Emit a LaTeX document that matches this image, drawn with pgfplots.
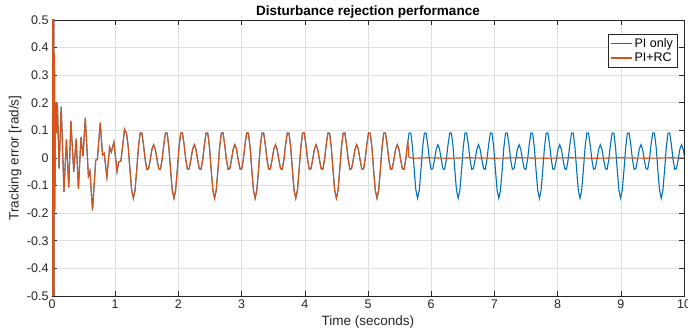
\documentclass[border=0pt]{standalone}
\usepackage{fontspec}
\setmainfont{Liberation Sans}
\usepackage{pgfplots}
\usepackage{pgfplotstable}
\pgfplotsset{compat=1.18}
\definecolor{mblue}{rgb}{0,0.447,0.741}
\definecolor{morange}{rgb}{0.85,0.325,0.098}
\definecolor{axgray}{rgb}{0.15,0.15,0.15}
\definecolor{gridgray}{rgb}{0.875,0.875,0.875}

% common part (PI only and PI+RC identical until RC switches in)
\pgfplotstableread[row sep=\\]{
t y\\
0 0\\
0.003 0.9\\ 0.006 -0.9\\ 0.009 0.9\\ 0.012 -0.9\\ 0.015 0.9\\ 0.018 -0.9\\
0.021 0.9\\ 0.024 -0.9\\ 0.027 0.9\\ 0.030 -0.9\\
0.033 0.376\\ 0.038 0.376\\ 0.045 -0.19\\ 0.052 0.2\\ 0.062 0.2\\ 0.073 0.09\\
0.085 0.2\\ 0.112 -0.038\\ 0.146 0.186\\ 0.189 -0.123\\ 0.228 0.067\\ 0.265 -0.106\\
0.299 0.134\\ 0.344 -0.05\\ 0.383 0.07\\ 0.418 -0.112\\ 0.459 0.076\\ 0.49 0.006\\
0.527 0.145\\ 0.576 -0.065\\ 0.6 -0.047\\ 0.641 -0.19\\ 0.692 -0.008\\ 0.718 -0.005\\
0.763 0.128\\ 0.8 0.011\\ 0.826 0.017\\ 0.868 -0.069\\ 0.912 0.04\\ 0.938 0.022\\
0.979 0.058\\ 1.029 -0.049\\ 1.055 -0.014\\ 1.09 -0.011\\ 1.148 0.104\\ 1.18 0.088\\
1.2067 0.0389\\ 1.2335 -0.0427\\ 1.2602 -0.1165\\
1.2870 -0.146\\ 1.3138 -0.1165\\ 1.3405 -0.0427\\ 1.3673 0.0389\\ 1.3941 0.0900\\ 1.4209 0.0907\\
1.4476 0.0490\\ 1.4744 -0.0059\\ 1.5012 -0.0410\\ 1.5279 -0.0389\\ 1.5547 -0.0063\\ 1.5815 0.0316\\
1.6083 0.0480\\ 1.6350 0.0316\\ 1.6618 -0.0063\\ 1.6886 -0.0389\\ 1.7153 -0.0410\\ 1.7421 -0.0059\\
1.7689 0.0490\\ 1.7956 0.0907\\ 1.8224 0.0900\\ 1.8492 0.0389\\ 1.8760 -0.0427\\ 1.9027 -0.1165\\
1.9295 -0.146\\ 1.9563 -0.1165\\ 1.9830 -0.0427\\ 2.0098 0.0389\\ 2.0366 0.0900\\ 2.0634 0.0907\\
2.0901 0.0490\\ 2.1169 -0.0059\\ 2.1437 -0.0410\\ 2.1704 -0.0389\\ 2.1972 -0.0063\\ 2.2240 0.0316\\
2.2508 0.0480\\ 2.2775 0.0316\\ 2.3043 -0.0063\\ 2.3311 -0.0389\\ 2.3578 -0.0410\\ 2.3846 -0.0059\\
2.4114 0.0490\\ 2.4381 0.0907\\ 2.4649 0.0900\\ 2.4917 0.0389\\ 2.5185 -0.0427\\ 2.5452 -0.1165\\
2.5720 -0.146\\ 2.5988 -0.1165\\ 2.6255 -0.0427\\ 2.6523 0.0389\\ 2.6791 0.0900\\ 2.7059 0.0907\\
2.7326 0.0490\\ 2.7594 -0.0059\\ 2.7862 -0.0410\\ 2.8129 -0.0389\\ 2.8397 -0.0063\\ 2.8665 0.0316\\
2.8933 0.0480\\ 2.9200 0.0316\\ 2.9468 -0.0063\\ 2.9736 -0.0389\\ 3.0003 -0.0410\\ 3.0271 -0.0059\\
3.0539 0.0490\\ 3.0806 0.0907\\ 3.1074 0.0900\\ 3.1342 0.0389\\ 3.1610 -0.0427\\ 3.1877 -0.1165\\
3.2145 -0.146\\ 3.2413 -0.1165\\ 3.2680 -0.0427\\ 3.2948 0.0389\\ 3.3216 0.0900\\ 3.3484 0.0907\\
3.3751 0.0490\\ 3.4019 -0.0059\\ 3.4287 -0.0410\\ 3.4554 -0.0389\\ 3.4822 -0.0063\\ 3.5090 0.0316\\
3.5358 0.0480\\ 3.5625 0.0316\\ 3.5893 -0.0063\\ 3.6161 -0.0389\\ 3.6428 -0.0410\\ 3.6696 -0.0059\\
3.6964 0.0490\\ 3.7231 0.0907\\ 3.7499 0.0900\\ 3.7767 0.0389\\ 3.8035 -0.0427\\ 3.8302 -0.1165\\
3.8570 -0.146\\ 3.8838 -0.1165\\ 3.9105 -0.0427\\ 3.9373 0.0389\\ 3.9641 0.0900\\ 3.9909 0.0907\\
4.0176 0.0490\\ 4.0444 -0.0059\\ 4.0712 -0.0410\\ 4.0979 -0.0389\\ 4.1247 -0.0063\\ 4.1515 0.0316\\
4.1783 0.0480\\ 4.2050 0.0316\\ 4.2318 -0.0063\\ 4.2586 -0.0389\\ 4.2853 -0.0410\\ 4.3121 -0.0059\\
4.3389 0.0490\\ 4.3656 0.0907\\ 4.3924 0.0900\\ 4.4192 0.0389\\ 4.4460 -0.0427\\ 4.4727 -0.1165\\
4.4995 -0.146\\ 4.5263 -0.1165\\ 4.5530 -0.0427\\ 4.5798 0.0389\\ 4.6066 0.0900\\ 4.6334 0.0907\\
4.6601 0.0490\\ 4.6869 -0.0059\\ 4.7137 -0.0410\\ 4.7404 -0.0389\\ 4.7672 -0.0063\\ 4.7940 0.0316\\
4.8208 0.0480\\ 4.8475 0.0316\\ 4.8743 -0.0063\\ 4.9011 -0.0389\\ 4.9278 -0.0410\\ 4.9546 -0.0059\\
4.9814 0.0490\\ 5.0081 0.0907\\ 5.0349 0.0900\\ 5.0617 0.0389\\ 5.0885 -0.0427\\ 5.1152 -0.1165\\
5.1420 -0.146\\ 5.1688 -0.1165\\ 5.1955 -0.0427\\ 5.2223 0.0389\\ 5.2491 0.0900\\ 5.2759 0.0907\\
5.3026 0.0490\\ 5.3294 -0.0059\\ 5.3562 -0.0410\\ 5.3829 -0.0389\\ 5.4097 -0.0063\\ 5.4365 0.0316\\
5.4633 0.0480\\ 5.4900 0.0316\\ 5.5168 -0.0063\\ 5.5436 -0.0389\\ 5.5703 -0.0410\\ 5.5971 -0.0059\\
5.6239 0.0490\\
}\common

% PI only: continues oscillating
\pgfplotstableread[row sep=\\]{
t y\\
5.6239 0.0490\\ 5.6506 0.0907\\ 5.6774 0.0900\\ 5.7042 0.0389\\ 5.7310 -0.0427\\ 5.7577 -0.1165\\
5.7845 -0.146\\ 5.8113 -0.1165\\ 5.8380 -0.0427\\ 5.8648 0.0389\\ 5.8916 0.0900\\ 5.9184 0.0907\\
5.9451 0.0490\\ 5.9719 -0.0059\\ 5.9987 -0.0410\\ 6.0254 -0.0389\\ 6.0522 -0.0063\\ 6.0790 0.0316\\
6.1058 0.0480\\ 6.1325 0.0316\\ 6.1593 -0.0063\\ 6.1861 -0.0389\\ 6.2128 -0.0410\\ 6.2396 -0.0059\\
6.2664 0.0490\\ 6.2931 0.0907\\ 6.3199 0.0900\\ 6.3467 0.0389\\ 6.3735 -0.0427\\ 6.4002 -0.1165\\
6.4270 -0.146\\ 6.4538 -0.1165\\ 6.4805 -0.0427\\ 6.5073 0.0389\\ 6.5341 0.0900\\ 6.5609 0.0907\\
6.5876 0.0490\\ 6.6144 -0.0059\\ 6.6412 -0.0410\\ 6.6679 -0.0389\\ 6.6947 -0.0063\\ 6.7215 0.0316\\
6.7483 0.0480\\ 6.7750 0.0316\\ 6.8018 -0.0063\\ 6.8286 -0.0389\\ 6.8553 -0.0410\\ 6.8821 -0.0059\\
6.9089 0.0490\\ 6.9356 0.0907\\ 6.9624 0.0900\\ 6.9892 0.0389\\ 7.0160 -0.0427\\ 7.0427 -0.1165\\
7.0695 -0.146\\ 7.0963 -0.1165\\ 7.1230 -0.0427\\ 7.1498 0.0389\\ 7.1766 0.0900\\ 7.2034 0.0907\\
7.2301 0.0490\\ 7.2569 -0.0059\\ 7.2837 -0.0410\\ 7.3104 -0.0389\\ 7.3372 -0.0063\\ 7.3640 0.0316\\
7.3908 0.0480\\ 7.4175 0.0316\\ 7.4443 -0.0063\\ 7.4711 -0.0389\\ 7.4978 -0.0410\\ 7.5246 -0.0059\\
7.5514 0.0490\\ 7.5781 0.0907\\ 7.6049 0.0900\\ 7.6317 0.0389\\ 7.6585 -0.0427\\ 7.6852 -0.1165\\
7.7120 -0.146\\ 7.7388 -0.1165\\ 7.7655 -0.0427\\ 7.7923 0.0389\\ 7.8191 0.0900\\ 7.8459 0.0907\\
7.8726 0.0490\\ 7.8994 -0.0059\\ 7.9262 -0.0410\\ 7.9529 -0.0389\\ 7.9797 -0.0063\\ 8.0065 0.0316\\
8.0333 0.0480\\ 8.0600 0.0316\\ 8.0868 -0.0063\\ 8.1136 -0.0389\\ 8.1403 -0.0410\\ 8.1671 -0.0059\\
8.1939 0.0490\\ 8.2206 0.0907\\ 8.2474 0.0900\\ 8.2742 0.0389\\ 8.3010 -0.0427\\ 8.3277 -0.1165\\
8.3545 -0.146\\ 8.3813 -0.1165\\ 8.4080 -0.0427\\ 8.4348 0.0389\\ 8.4616 0.0900\\ 8.4884 0.0907\\
8.5151 0.0490\\ 8.5419 -0.0059\\ 8.5687 -0.0410\\ 8.5954 -0.0389\\ 8.6222 -0.0063\\ 8.6490 0.0316\\
8.6758 0.0480\\ 8.7025 0.0316\\ 8.7293 -0.0063\\ 8.7561 -0.0389\\ 8.7828 -0.0410\\ 8.8096 -0.0059\\
8.8364 0.0490\\ 8.8631 0.0907\\ 8.8899 0.0900\\ 8.9167 0.0389\\ 8.9435 -0.0427\\ 8.9702 -0.1165\\
8.9970 -0.146\\ 9.0238 -0.1165\\ 9.0505 -0.0427\\ 9.0773 0.0389\\ 9.1041 0.0900\\ 9.1309 0.0907\\
9.1576 0.0490\\ 9.1844 -0.0059\\ 9.2112 -0.0410\\ 9.2379 -0.0389\\ 9.2647 -0.0063\\ 9.2915 0.0316\\
9.3183 0.0480\\ 9.3450 0.0316\\ 9.3718 -0.0063\\ 9.3986 -0.0389\\ 9.4253 -0.0410\\ 9.4521 -0.0059\\
9.4789 0.0490\\ 9.5056 0.0907\\ 9.5324 0.0900\\ 9.5592 0.0389\\ 9.5860 -0.0427\\ 9.6127 -0.1165\\
9.6395 -0.146\\ 9.6663 -0.1165\\ 9.6930 -0.0427\\ 9.7198 0.0389\\ 9.7466 0.0900\\ 9.7734 0.0907\\
9.8001 0.0490\\ 9.8269 -0.0059\\ 9.8537 -0.0410\\ 9.8804 -0.0389\\ 9.9072 -0.0063\\ 9.9340 0.0316\\
9.9608 0.0480\\ 9.9875 0.0316\\ 10.0143 -0.0063\\
}\pitail

% PI+RC: error suppressed
\pgfplotstableread[row sep=\\]{
t y\\
5.6239 0.0490\\ 5.632 0.062\\ 5.646 0.003\\ 5.70 -0.001\\ 5.95 0.001\\ 6.25 -0.001\\
6.6 0.001\\ 7.0 -0.001\\ 7.4 0.001\\ 7.8 -0.001\\ 8.2 0.001\\ 8.6 -0.001\\ 9.0 0.001\\
9.4 -0.001\\ 9.8 0.001\\ 10.0 0.0\\
}\rctail

\begin{document}
\begin{tikzpicture}
\begin{axis}[
  at={(0,0)}, anchor=south west,
  scale only axis, width=632bp, height=276bp,
  clip mode=individual,
  xmin=0, xmax=10, ymin=-0.5, ymax=0.5,
  xtick={0,1,2,3,4,5,6,7,8,9,10},
  ytick={-0.5,-0.4,-0.3,-0.2,-0.1,0,0.1,0.2,0.3,0.4,0.5},
  yticklabels={-0.5,-0.4,-0.3,-0.2,-0.1,0,0.1,0.2,0.3,0.4,0.5},
  /pgf/number format/assume math mode=true,
  tick align=inside, major tick length=5bp,
  axis line style={draw=axgray, line width=0.6bp},
  every tick/.style={draw=axgray, line width=0.6bp},
  grid=major,
  major grid style={draw=gridgray, line width=0.6bp},
  tick label style={font=\fontsize{12.5bp}{15bp}\selectfont, text=axgray},
  xlabel={Time (seconds)},
  label style={font=\fontsize{13.5bp}{16bp}\selectfont, text=axgray},
  xlabel style={at={(axis description cs:0.5,0)}, anchor=center, yshift=-26bp},
  legend style={at={(axis description cs:0.989,0.949)}, anchor=north east,
    font=\fontsize{12.5bp}{14bp}\selectfont, draw=axgray, line width=0.5bp, fill=white,
    inner xsep=2bp, inner ysep=2bp, row sep=0bp},
  legend cell align=left,
  legend image code/.code={\draw[#1, line width=1.2bp] (0bp,0bp) -- (21bp,0bp);},
  every axis plot/.append style={line width=1.1bp},
]
\addlegendimage{color=mblue}
\addlegendentry{PI only}
\addlegendimage{color=morange}
\addlegendentry{PI+RC}
\addplot[color=mblue, forget plot] table[x=t, y=y] {\common};
\addplot[color=mblue, forget plot] table[x=t, y=y] {\pitail};
\addplot[color=morange, forget plot] table[x=t, y=y] {\common};
\addplot[color=morange, forget plot] table[x=t, y=y] {\rctail};
\node[font=\bfseries\fontsize{13.5bp}{16bp}\selectfont, text=black, anchor=center]
  at (axis description cs:0.5,1.029) {Disturbance rejection performance};
\node[font=\fontsize{13.5bp}{16bp}\selectfont, text=axgray, anchor=center, rotate=90]
  at (axis description cs:-0.0585,0.5) {Tracking error [rad/s]};
\end{axis}
\pgfresetboundingbox
\path[use as bounding box] (-52bp,-36bp) rectangle (636bp,296bp);
\end{tikzpicture}
\end{document}
